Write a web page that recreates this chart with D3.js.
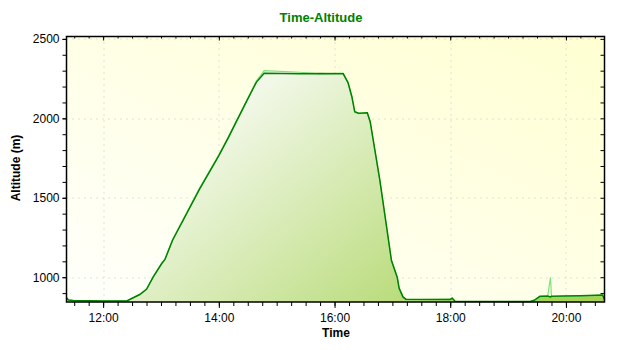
<!DOCTYPE html>
<html>
<head>
<meta charset="utf-8">
<script src="https://d3js.org/d3.v7.min.js"></script>
<style>
  body { margin: 0; background: #fff; }
  .tick-lbl { font-family: "Liberation Sans", Arial, sans-serif; font-size: 12px; fill: #000; }
  .ttl { font-family: "Liberation Sans", Arial, sans-serif; font-size: 13px; font-weight: bold; fill: #008000; }
  .axis-title { font-family: "Liberation Sans", Arial, sans-serif; font-size: 12px; font-weight: bold; fill: #000; }
</style>
</head>
<body>
<div id="chart"></div>
<script>
// time of day (hh:mm) and altitude (m)
var times = ["11:22","11:24","11:30","11:45","12:00","12:15","12:25","12:38","12:45","12:52","13:01","13:04","13:12","13:40","14:00","14:10","14:17","14:29","14:39","14:47","15:24","15:45","16:09","16:14","16:18","16:21","16:25","16:34","16:37","16:47","16:59","17:05","17:07","17:11","17:14","18:00","18:02","18:05","19:23","19:27","19:33","19:41","19:44","19:45","19:57","20:15","20:38","20:40"];
var altitude = [870,857,852,852,850,851,852,891,924,1002,1088,1110,1233,1555,1765,1880,1965,2110,2228,2283,2280,2282,2280,2225,2136,2041,2032,2035,1979,1611,1107,1000,931,876,862,860,868,848,847,855,880,882,876,880,882,884,888,860];
// second (raw) trace, drawn light green below the main one
var altitudeRaw = [872,858,853,851,851,852,852,893,926,1005,1092,1112,1238,1561,1770,1885,1970,2114,2236,2300,2290,2280,2284,2222,2130,2036,2030,2033,1972,1605,1100,996,925,872,858,862,870,848,847,851,866,878,1000,878,880,882,886,860];

var W = 640, H = 350;
var margin = {left: 66.5, right: 35.5, top: 36.5, bottom: 48};
var pw = W - margin.left - margin.right, ph = H - margin.top - margin.bottom;

var parse = d3.timeParse("%H:%M");
var data = times.map(function(t, i) {
  return {t: parse(t), a: altitude[i], r: altitudeRaw[i]};
});

var svg = d3.select("#chart").append("svg")
  .attr("width", W).attr("height", H)
  .style("background-color", "#fff");

var defs = svg.append("defs");
var bg = defs.append("linearGradient").attr("id", "bgGrad")
  .attr("x1", "0%").attr("y1", "100%").attr("x2", "100%").attr("y2", "0%");
bg.append("stop").attr("offset", "0%").attr("stop-color", "#fffffc");
bg.append("stop").attr("offset", "100%").attr("stop-color", "#ffffd2");

var ag = defs.append("linearGradient").attr("id", "areaGrad")
  .attr("gradientUnits", "userSpaceOnUse")
  .attr("x1", 190).attr("y1", 40).attr("x2", 420).attr("y2", 310);
ag.append("stop").attr("offset", "0%").attr("stop-color", "#f4f9ec");
ag.append("stop").attr("offset", "100%").attr("stop-color", "#a6d256");

var g = svg.append("g").attr("transform", "translate(" + margin.left + "," + margin.top + ")");

var x = d3.scaleTime().domain([parse("11:22"), parse("20:40")]).range([0, pw]);
var y = d3.scaleLinear().domain([844, 2515]).range([ph, 0]);

g.append("rect").attr("width", pw).attr("height", ph).attr("fill", "url(#bgGrad)");

// grid
var hourTicks = d3.timeHour.every(2).range(parse("12:00"), parse("20:41"));
var minorT = d3.timeMinute.every(15).range(parse("11:30"), parse("20:41"));
var yMajor = d3.range(1000, 2501, 500);
var yMinor = d3.range(900, 2501, 100);

g.selectAll(".vgrid").data(hourTicks).enter().append("line")
  .attr("x1", function(d) { return Math.round(x(d)) + 0.5; })
  .attr("x2", function(d) { return Math.round(x(d)) + 0.5; })
  .attr("y1", 0).attr("y2", ph)
  .attr("stroke", "#c4c4c4").attr("stroke-dasharray", "1,5");
g.selectAll(".hgrid").data(yMajor).enter().append("line")
  .attr("y1", function(d) { return Math.round(y(d)) + 0.5; })
  .attr("y2", function(d) { return Math.round(y(d)) + 0.5; })
  .attr("x1", 0).attr("x2", pw)
  .attr("stroke", "#c4c4c4").attr("stroke-dasharray", "1,5");

// area + traces (spike in raw trace is not filled)
var area = d3.area().x(function(d) { return x(d.t); }).y0(ph).y1(function(d) { return y(Math.max(d.a, d.r > 950 && d.a < 950 ? d.a : d.r)); });
g.append("path").datum(data).attr("d", area).attr("fill", "url(#areaGrad)");

g.append("path").datum(data)
  .attr("d", d3.line().x(function(d) { return x(d.t); }).y(function(d) { return y(d.r); }))
  .attr("fill", "none").attr("stroke", "#7ee27e").attr("stroke-width", 1.2);
g.append("path").datum(data)
  .attr("d", d3.line().x(function(d) { return x(d.t); }).y(function(d) { return y(d.a); }))
  .attr("fill", "none").attr("stroke", "#008000").attr("stroke-width", 1.5);

// frame
g.append("rect").attr("x", 0).attr("y", 0).attr("width", pw).attr("height", ph)
  .attr("fill", "none").attr("stroke", "#000").attr("stroke-width", 1.5);

// bottom axis
var xAxis = d3.axisBottom(x).tickValues(hourTicks).tickFormat(d3.timeFormat("%H:%M"))
  .tickSize(6).tickPadding(5);
var xa = g.append("g").attr("transform", "translate(0," + ph + ")").call(xAxis);
xa.select(".domain").remove();
xa.selectAll("text").attr("class", "tick-lbl").attr("fill", null);
g.append("g").attr("transform", "translate(0," + ph + ")")
  .call(d3.axisBottom(x).tickValues(minorT).tickSize(4).tickFormat(""))
  .select(".domain").remove();

// top axis (inner ticks)
g.append("g").call(d3.axisBottom(x).tickValues(minorT).tickSize(2).tickFormat(""))
  .select(".domain").remove();
g.append("g").call(d3.axisBottom(x).tickValues(hourTicks).tickSize(4).tickFormat(""))
  .select(".domain").remove();

// left axis
var yAxis = d3.axisLeft(y).tickValues(yMajor).tickSize(4).tickPadding(3).tickFormat(d3.format("d"));
var ya = g.append("g").call(yAxis);
ya.select(".domain").remove();
ya.selectAll("text").attr("class", "tick-lbl").attr("fill", null);
g.append("g").call(d3.axisLeft(y).tickValues(yMinor).tickSize(4).tickFormat(""))
  .select(".domain").remove();

// right axis (inner ticks)
g.append("g").attr("transform", "translate(" + pw + ",0)")
  .call(d3.axisLeft(y).tickValues(yMinor).tickSize(4).tickFormat(""))
  .select(".domain").remove();

// titles
svg.append("text").attr("class", "ttl").attr("x", 321).attr("y", 22)
  .attr("text-anchor", "middle").text("Time-Altitude");
svg.append("text").attr("class", "axis-title").attr("x", 336).attr("y", 337)
  .attr("text-anchor", "middle").text("Time");
svg.append("text").attr("class", "axis-title")
  .attr("transform", "translate(20,168) rotate(-90)")
  .attr("text-anchor", "middle").text("Altitude (m)");
</script>
</body>
</html>
